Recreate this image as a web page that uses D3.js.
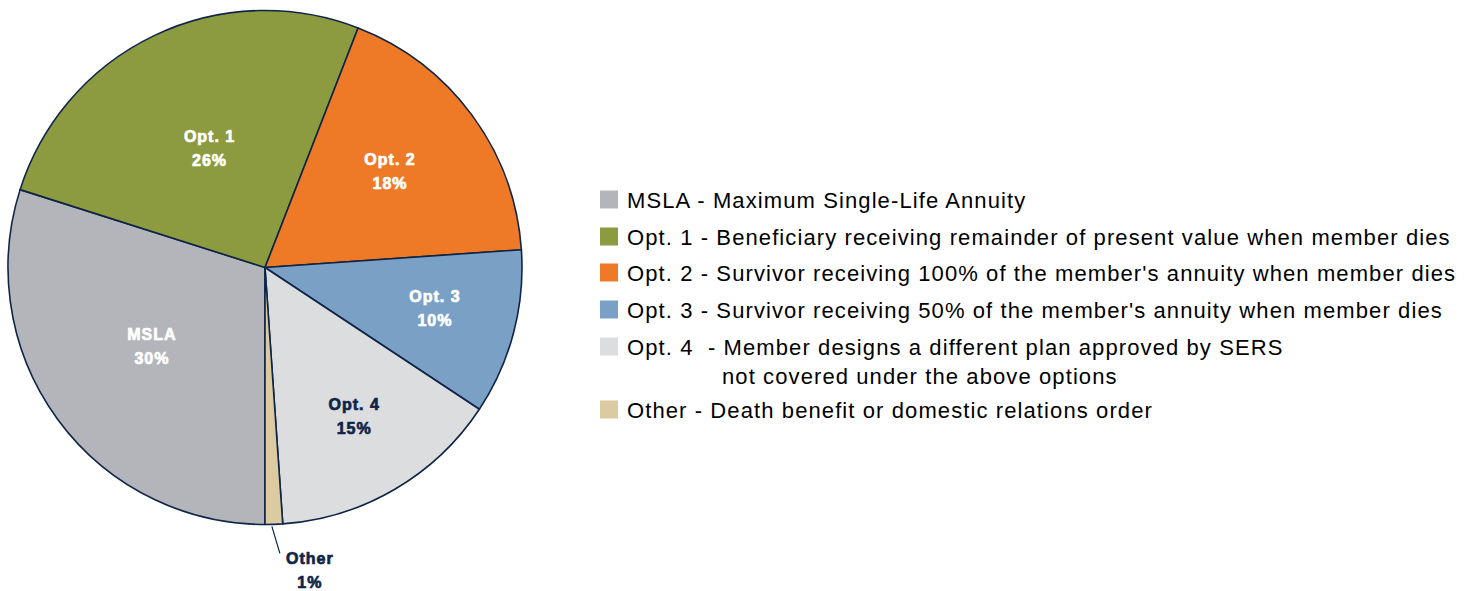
<!DOCTYPE html>
<html>
<head>
<meta charset="utf-8">
<script src="https://cdn.jsdelivr.net/npm/d3@7"></script>
<style>
  body { margin: 0; background: #fff; }
  svg { display: block; }
</style>
</head>
<body>
<div id="chart"></div>
<script>
// Data (share of retirements by payment option, %)
let categories = ["MSLA", "Opt. 1", "Opt. 2", "Opt. 3", "Opt. 4", "Other"];
let shares = [29.9, 26.0, 18.0, 10.4, 14.6, 1.1];
let legendTexts = [
  ["MSLA - Maximum Single-Life Annuity"],
  ["Opt. 1 - Beneficiary receiving remainder of present value when member dies"],
  ["Opt. 2 - Survivor receiving 100% of the member's annuity when member dies"],
  ["Opt. 3 - Survivor receiving 50% of the member's annuity when member dies"],
  ["Opt. 4  - Member designs a different plan approved by SERS", "not covered under the above options"],
  ["Other - Death benefit or domestic relations order"]
];

let colors = ["#b3b5ba", "#8c9a40", "#ee7926", "#7ba0c6", "#dcdddf", "#dccaa1"];
let labelFill = ["#fff", "#fff", "#fff", "#fff", "#0f2547", "#0f2547"];
// how far out each label sits (fraction of radius), like Excel's best fit
let labelR = [0.545, 0.5, 0.604, 0.684, 0.689, 0];

let svgWidth = 1483;
let svgHeight = 591;

let svg = d3.select("#chart")
  .append("svg")
  .attr("width", svgWidth)
  .attr("height", svgHeight);

let cx = 265, cy = 267.5, radius = 257;

let pieGroup = svg.append("g")
  .attr("transform", `translate(${cx}, ${cy})`);

let pie = d3.pie()
  .sort(null)
  .value(d => d)
  .startAngle(Math.PI)
  .endAngle(3 * Math.PI);

let arcs = pie(shares);
let arc = d3.arc().innerRadius(0).outerRadius(radius);

pieGroup.selectAll("path")
  .data(arcs)
  .enter()
  .append("path")
  .attr("d", arc)
  .attr("fill", (d, i) => colors[i])
  .attr("stroke", "#0f2547")
  .attr("stroke-width", 1.6)
  .attr("stroke-linejoin", "round");

// labels inside the slices
arcs.forEach(function(d, i) {
  let mid = (d.startAngle + d.endAngle) / 2;
  let x, y;
  let fill = labelFill[i];
  if (labelR[i] > 0) {
    let r = radius * labelR[i];
    x = Math.sin(mid) * r;
    y = -Math.cos(mid) * r;
  } else {
    // small slice: label outside with a leader line
    let ex = Math.sin(mid) * radius, ey = -Math.cos(mid) * radius;
    pieGroup.append("line")
      .attr("x1", ex - 2).attr("y1", ey + 2)
      .attr("x2", ex + 6).attr("y2", ey + 29)
      .attr("stroke", "#0f2547")
      .attr("stroke-width", 1.2);
    x = ex + 36;
    y = ey + 50;
  }
  let t = pieGroup.append("text")
    .attr("text-anchor", "middle")
    .attr("font-family", "'Liberation Sans', Arial, sans-serif")
    .attr("font-weight", "bold")
    .attr("font-size", 16)
    .attr("letter-spacing", 1)
    .attr("fill", fill)
    .attr("stroke", fill)
    .attr("stroke-width", 0.7);
  t.append("tspan").attr("x", x).attr("y", y - 10).text(categories[i]);
  t.append("tspan").attr("x", x).attr("y", y + 14).text(Math.round(shares[i]) + "%");
});

// legend
let legendX = 600;
let rowY = [208, 245, 281, 318, 355, 418];

let legend = svg.append("g");

legendTexts.forEach(function(lines, i) {
  let g = legend.append("g")
    .attr("transform", `translate(${legendX}, ${rowY[i]})`);
  g.append("rect")
    .attr("x", 0)
    .attr("y", -17.5)
    .attr("width", 18)
    .attr("height", 18)
    .attr("fill", colors[i]);
  let t = g.append("text")
    .attr("font-family", "'Liberation Sans', Arial, sans-serif")
    .attr("font-size", 22)
    .attr("letter-spacing", 1.1)
    .attr("fill", "#000")
    .style("white-space", "pre");
  lines.forEach(function(line, j) {
    t.append("tspan")
      .attr("x", j === 0 ? 27 : 122)
      .attr("y", j * 28.5)
      .text(line);
  });
});
</script>
</body>
</html>
